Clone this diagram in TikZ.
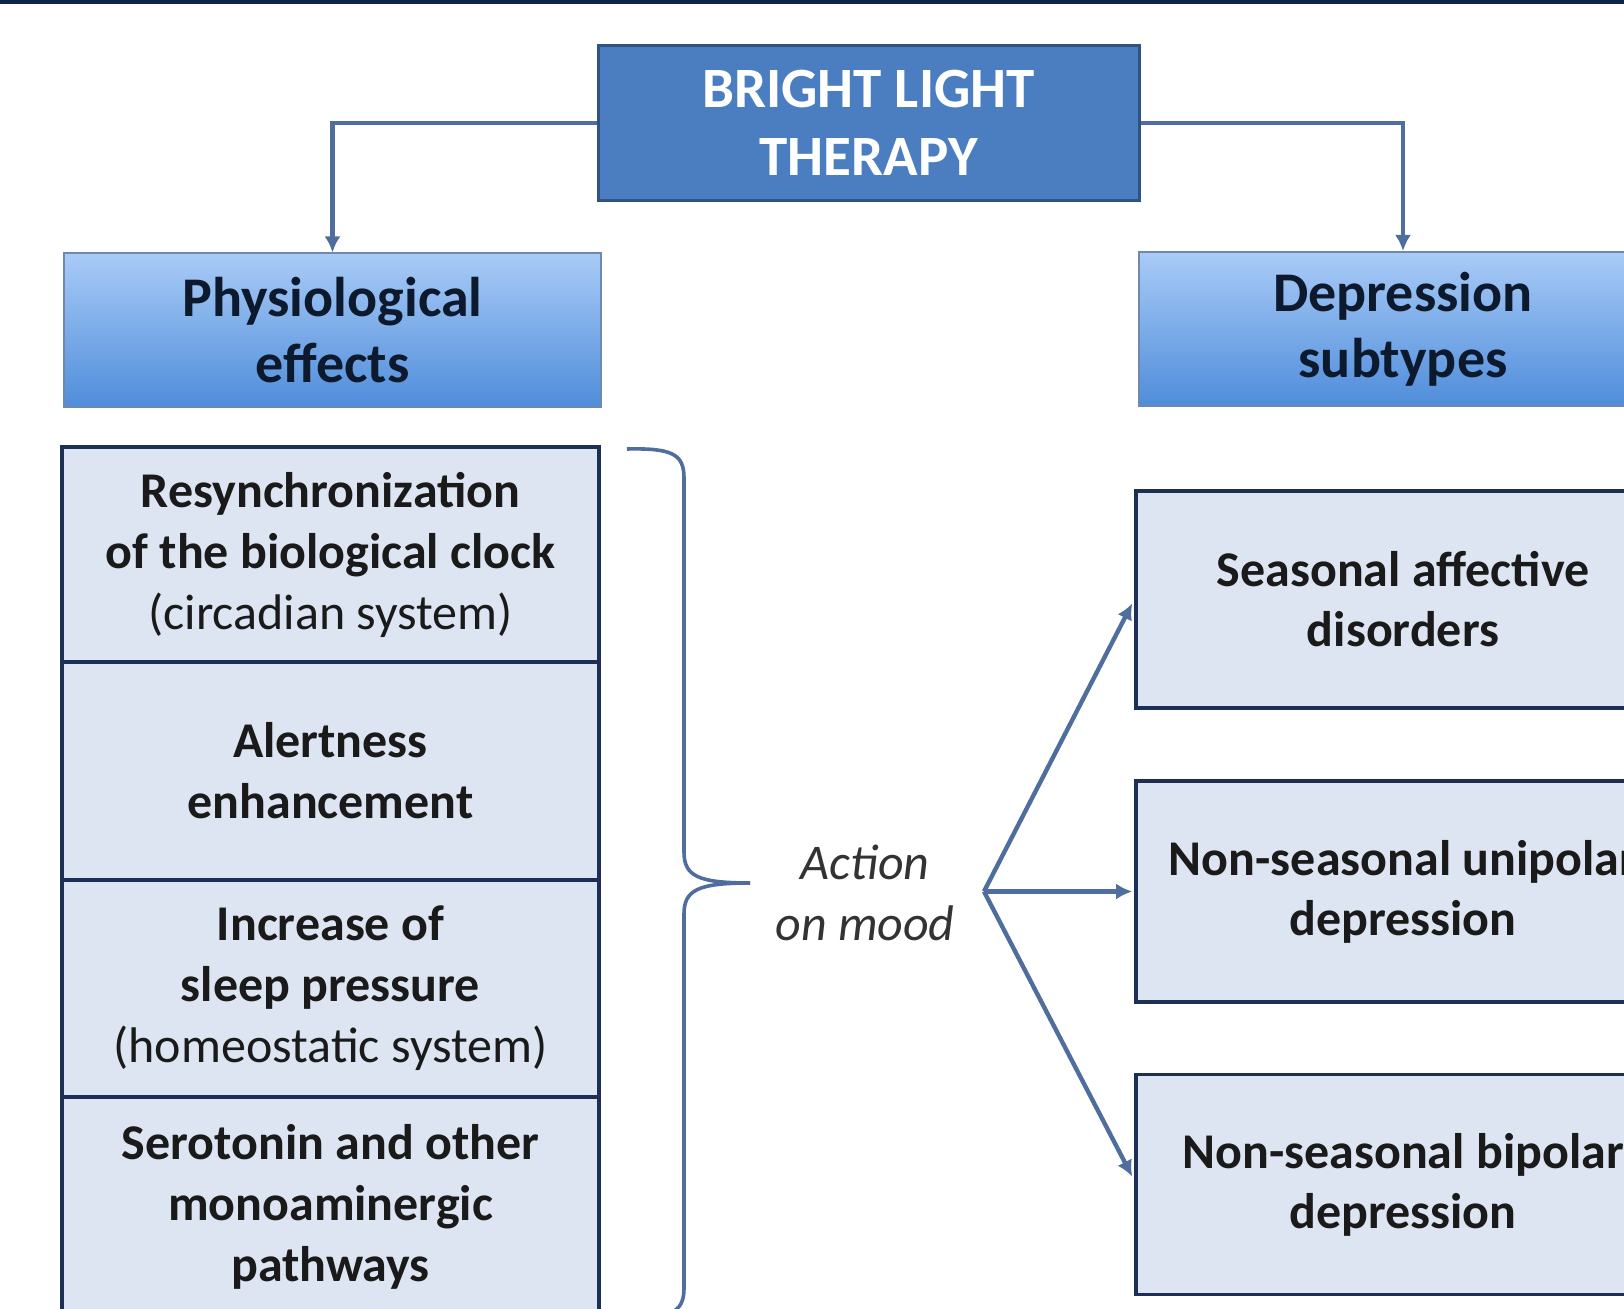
\documentclass[tikz,border=0pt]{standalone}
\usepackage{fontspec}
\setmainfont{Carlito}
\usetikzlibrary{arrows.meta,calc}
\definecolor{topfill}{HTML}{4A7EC0}
\definecolor{topdraw}{HTML}{2F5383}
\definecolor{hdrtop}{HTML}{A9CBF7}
\definecolor{hdrbot}{HTML}{4F8DDA}
\definecolor{hdrdraw}{HTML}{6F89AE}
\definecolor{hdrtext}{HTML}{0D1A2E}
\definecolor{cellfill}{HTML}{DCE5F1}
\definecolor{celldraw}{HTML}{1E2F55}
\definecolor{celltext}{HTML}{1A1A1A}
\definecolor{connc}{HTML}{4F6E9E}
\definecolor{band}{HTML}{0F2444}
\definecolor{acttext}{HTML}{333333}
\begin{document}
\begin{tikzpicture}[x=0.5pt,y=-0.5pt,
  topbox/.style={fill=topfill, draw=topdraw, line width=1.5pt, minimum width=270.5pt, minimum height=77.5pt, text=white, font=\fontsize{28.5}{34}\selectfont\bfseries, align=center, inner sep=0pt},
  hdr/.style={top color=hdrtop, bottom color=hdrbot, draw=hdrdraw, line width=1pt, minimum height=77pt, font=\fontsize{28}{33}\selectfont\bfseries, text=hdrtext, align=center, inner sep=0pt},
  cell/.style={fill=cellfill, draw=celldraw, line width=1.8pt, minimum width=268.5pt, align=center, font=\fontsize{25}{30.5}\selectfont\bfseries, text=celltext, inner sep=0pt},
  subbox/.style={cell, minimum width=267pt, font=\fontsize{25}{30}\selectfont\bfseries},
  conn/.style={draw=connc, line width=2.2pt},
  arr/.style={conn, -{Latex[length=8pt,width=8pt]}},
  bracepath/.style={draw=connc, line width=1.8pt}
]
\useasboundingbox (0,0) rectangle (1624,1309);
\clip (0,0) rectangle (1624,1309);
\fill[white] (0,0) rectangle (1624,1309);
\fill[band] (0,0) rectangle (1624,4);

% top node
\node[topbox] (top) at (868.5,123) {BRIGHT LIGHT\\THERAPY};

% headers
\node[hdr, minimum width=268.5pt] (phys) at (332.5,330.5) {Physiological\\effects};
\node[hdr, minimum width=264pt] (dep) at (1403,329) {Depression\\subtypes};

% left column cells
\node[cell, minimum height=107.5pt] (c1) at (330.5,554.5) {Resynchronization\\of the biological clock\\\textmd{(circadian system)}};
\node[cell, minimum height=109pt] (c2) at (330.5,771) {Alertness\\enhancement};
\node[cell, minimum height=108.5pt] (c3) at (330.5,988.5) {Increase of\\sleep pressure\\\textmd{(homeostatic system)}};
\node[cell, minimum height=110pt] (c4) at (330.5,1207) {Serotonin and other\\monoaminergic\\pathways};

% right column boxes
\node[subbox, minimum height=108.5pt] (seas) at (1403,599.5) {Seasonal affective\\disorders};
\node[subbox, minimum height=110.5pt] (uni) at (1403,891.5) {Non-seasonal unipolar\\depression};
\node[subbox, minimum height=110pt] (bip) at (1403,1184.5) {Non-seasonal bipolar\\depression};

% action label
\node[align=center, font=\fontsize{25}{30.5}\selectfont\itshape, text=acttext, inner sep=0pt] (act) at (865,893) {Action\\on mood};

% top connectors
\draw[arr] (top.west) -| (phys.north);
\draw[arr] (top.east) -| (dep.north);

% brace
\coordinate (bTop) at (627,449);
\coordinate (bTip) at (750,883);
\coordinate (bBot) at (627,1317);
\draw[bracepath] (bTop) .. controls (672,448) and (684,454) .. (684,478)
  -- (684,852) .. controls (684,876) and (698,883) .. (bTip);
\draw[bracepath] (bTip) .. controls (698,883) and (684,890) .. (684,914)
  -- (684,1288) .. controls (684,1312) and (672,1318) .. (bBot);

% fan arrows
\coordinate (fan) at (984,891.5);
\draw[arr] (fan) -- ($(seas.west)+(-2,4)$);
\draw[arr] (fan) -- ($(uni.west)+(-2,0)$);
\draw[arr] (fan) -- ($(bip.west)+(-2,-8)$);
\end{tikzpicture}
\end{document}
